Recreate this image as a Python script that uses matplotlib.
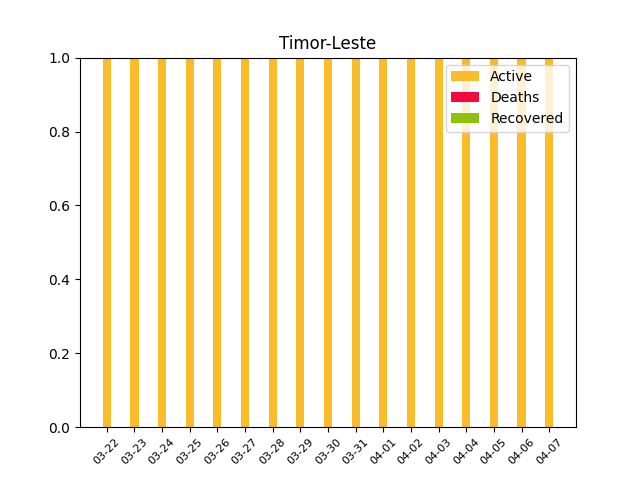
import matplotlib
matplotlib.use("Agg")
import matplotlib.pyplot as plt
import numpy as np

dates = ["03-22", "03-23", "03-24", "03-25", "03-26", "03-27", "03-28", "03-29",
         "03-30", "03-31", "04-01", "04-02", "04-03", "04-04", "04-05", "04-06", "04-07"]
active = [1, 1, 1, 1, 1, 1, 1, 1, 1, 1, 1, 1, 1, 1, 1, 1, 1]
deaths = [0] * 17
recovered = [0] * 17

fig, ax = plt.subplots(figsize=(6.4, 4.8), dpi=100)
x = np.arange(len(dates))
w = 0.3
a = np.array(active)
d = np.array(deaths)
r = np.array(recovered)
ax.bar(x, a, w, color="#fbbc2a", label="Active")
ax.bar(x, d, w, bottom=a, color="#f5073f", label="Deaths")
ax.bar(x, r, w, bottom=a + d, color="#8dc10a", label="Recovered")
ax.set_xticks(x)
ax.set_xticklabels(dates, rotation=45, fontsize=8)
ax.set_ylim(0, 1)
ax.set_title("Timor-Leste")
ax.legend(loc="upper right")
fig.savefig("out.png")
